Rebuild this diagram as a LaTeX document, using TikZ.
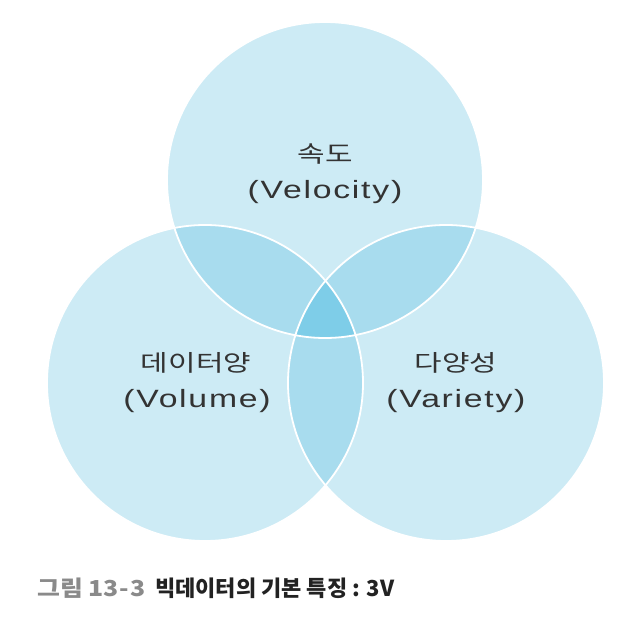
\documentclass[tikz,border=0pt]{standalone}
\usepackage{fontspec}
\newfontfamily\hanfont[FakeStretch=1.3]{Noto Sans CJK KR}
\newfontfamily\latfont[FakeStretch=1.35,LetterSpace=7]{Liberation Sans}
\newfontfamily\capfont{Noto Sans CJK KR}
\newfontfamily\capfontw[FakeStretch=1.13]{Noto Sans CJK KR}
\definecolor{basec}{HTML}{CDEBF5}
\definecolor{twoc}{HTML}{A8DCEE}
\definecolor{threec}{HTML}{7ECDE8}
\definecolor{txtc}{HTML}{333333}
\definecolor{capgray}{HTML}{8A8A8A}
\definecolor{capdark}{HTML}{222222}
\tikzset{
  hl/.style={anchor=base, inner sep=0pt, text=txtc, font=\hanfont\fontsize{23}{27}\selectfont},
  ll/.style={anchor=base, inner sep=0pt, text=txtc, font=\latfont\fontsize{25}{30}\selectfont},
  capl/.style={anchor=base west, inner sep=0pt, font=\capfont\bfseries\fontsize{22}{26}\selectfont},
  capw/.style={anchor=base west, inner sep=0pt, font=\capfontw\bfseries\fontsize{22}{26}\selectfont},
}
\begin{document}
\begin{tikzpicture}[x=1pt,y=-1pt]
\useasboundingbox (0,0) rectangle (627,618);
\fill[white] (0,0) rectangle (627,618);
\def\R{158}
\coordinate (T) at (325,180);
\coordinate (L) at (205,383);
\coordinate (Rt) at (446,383);
% base circles
\fill[basec] (T) circle (\R);
\fill[basec] (L) circle (\R);
\fill[basec] (Rt) circle (\R);
% pairwise overlaps
\begin{scope}
  \clip (T) circle (\R);
  \fill[twoc] (L) circle (\R);
  \fill[twoc] (Rt) circle (\R);
\end{scope}
\begin{scope}
  \clip (L) circle (\R);
  \fill[twoc] (Rt) circle (\R);
\end{scope}
% triple overlap
\begin{scope}
  \clip (T) circle (\R);
  \clip (L) circle (\R);
  \fill[threec] (Rt) circle (\R);
\end{scope}
% white outlines
\draw[white, line width=1.8pt] (T) circle (\R);
\draw[white, line width=1.8pt] (L) circle (\R);
\draw[white, line width=1.8pt] (Rt) circle (\R);
% labels
\node[hl] (velK) at (325,162) {속도};
\node[ll] (velE) at (325,198) {(Velocity)};
\node[hl] (volK) at (196,371) {데이터양};
\node[ll] (volE) at (197,407) {(Volume)};
\node[hl] (varK) at (456,371) {다양성};
\node[ll] (varE) at (456,407) {(Variety)};
% caption
\node[capw, text=capgray] (capA) at (37,596) {그림 13\kern1pt-\kern1pt3};
\node[capl, text=capdark] (capB) at (155,596) {빅데이터의 기본 특징 : 3V};
\end{tikzpicture}
\end{document}
